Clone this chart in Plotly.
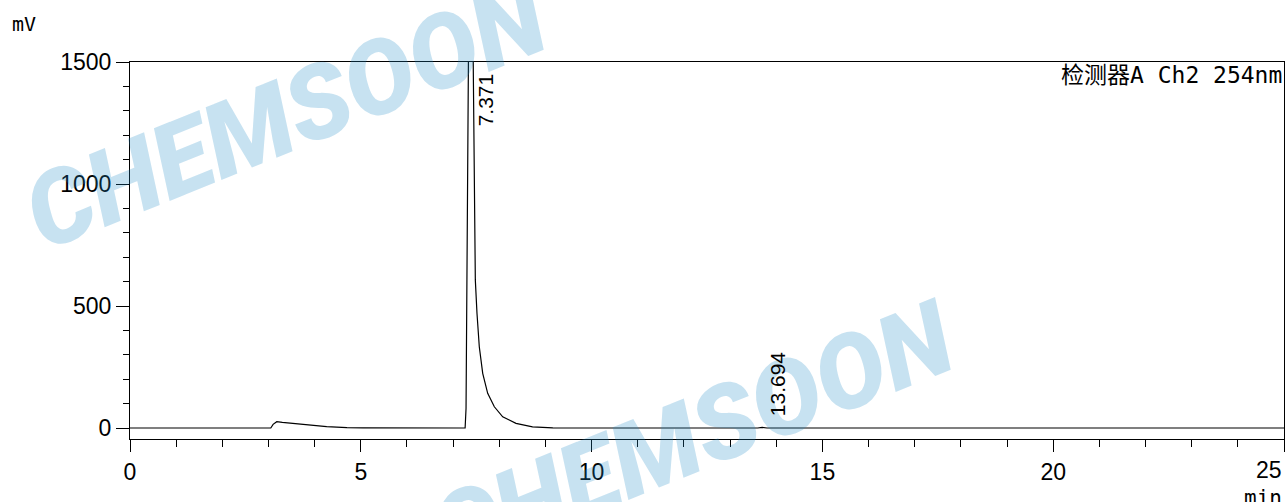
import plotly.graph_objects as go

# ---- data ----
time_min = [0.0, 3.05, 3.10, 3.18, 3.30, 3.54, 3.80, 4.26, 4.70, 5.05,
            7.20, 7.26, 7.28, 7.31, 7.33, 7.371, 7.41, 7.44, 7.46, 7.481,
            7.517, 7.567, 7.641, 7.749, 7.893, 8.074, 8.362, 8.72, 9.16,
            10.0, 13.60, 13.694, 13.80, 25.0]
signal_mv = [0, 0, 15, 26, 23, 19, 14, 6, 2, 0.5,
             0, 0, 80, 800, 1500, 2600, 2000, 1500, 1000, 607,
             470, 333, 224, 142, 87, 46, 19, 5, 1,
             0, 0, 3, 0, 0]
peak_rt = [7.371, 13.694]
peak_labels = ["7.371", "13.694"]
x_tickvals = [0, 5, 10, 15, 20, 25]
x_ticktext = ["0", "5", "10", "15", "20", ""]
y_tickvals = [0, 500, 1000, 1500]
detector_label = "检测器A Ch2 254nm"
watermark = "CHEMSOON"

W, H = 1285, 502
L, R, T, B = 130, 1284, 62, 439
pw, ph = R - L, B - T


def px(xp):
    return (xp - L) / pw


def py(yp):
    return (B - yp) / ph


fig = go.Figure()
fig.add_trace(go.Scatter(x=time_min, y=signal_mv, mode="lines",
                         line=dict(color="#000000", width=1.2),
                         hoverinfo="skip", showlegend=False))

mono = "DejaVu Sans Mono, Noto Sans CJK SC, monospace"
arial = "Liberation Sans, Arial, sans-serif"
narrow = "Liberation Sans Narrow, Liberation Sans, Arial, sans-serif"

annotations = []
# watermarks (semi-transparent so text underneath still shows)
for cx, cy in [(286, 115), (693, 435)]:
    annotations.append(dict(
        text=watermark, xref="paper", yref="paper", x=px(cx), y=py(cy),
        xanchor="center", yanchor="middle", showarrow=False, textangle=-22,
        font=dict(family="Roboto, Liberation Sans, Arial", size=103,
                  color="rgba(30,140,200,0.25)", weight=900, style="italic")))

# peak labels
label_y = [1344, 180]
for rt, lab, yy in zip(peak_rt, peak_labels, label_y):
    annotations.append(dict(
        text=lab, x=rt, y=yy, xref="x", yref="y", xshift=15,
        xanchor="center", yanchor="middle", showarrow=False, textangle=-90,
        font=dict(family=arial, size=21, color="#000000")))

annotations += [
    dict(text="mV", xref="paper", yref="paper", x=px(10), y=py(24),
         xanchor="left", yanchor="middle", showarrow=False,
         font=dict(family=mono, size=20, color="#000000")),
    dict(text=detector_label, xref="paper", yref="paper", x=px(1284), y=py(75),
         xanchor="right", yanchor="middle", showarrow=False,
         font=dict(family=mono, size=23, color="#000000")),
    dict(text="min", xref="paper", yref="paper", x=px(1284), y=py(484),
         xanchor="right", yanchor="top", showarrow=False,
         font=dict(family=mono, size=21, color="#000000")),
    dict(text="25", xref="paper", yref="paper", x=px(1284), y=py(455),
         xanchor="right", yanchor="top", showarrow=False,
         font=dict(family=narrow, size=23, color="#000000")),
]

fig.update_layout(
    width=W, height=H,
    margin=dict(l=L, r=W - R, t=T, b=H - B, pad=0),
    paper_bgcolor="white", plot_bgcolor="white",
    showlegend=False,
    annotations=annotations,
    xaxis=dict(range=[0, 25], showgrid=False, zeroline=False,
               showline=True, linecolor="#000000", linewidth=1.2, mirror=True,
               ticks="outside", ticklen=12, tickwidth=1, tickcolor="#000000",
               tickvals=x_tickvals, ticktext=x_ticktext,
               tickfont=dict(family=narrow, size=23, color="#000000"),
               minor=dict(dtick=1, ticks="outside", ticklen=7, tickwidth=1, tickcolor="#000000")),
    yaxis=dict(range=[-45, 1500], showgrid=False, zeroline=False,
               showline=True, linecolor="#000000", linewidth=1.2, mirror=True,
               ticks="outside", ticklen=13, tickwidth=1, tickcolor="#000000",
               tickvals=y_tickvals, ticklabelstandoff=0,
               tickfont=dict(family=arial, size=23, color="#000000"),
               minor=dict(dtick=100, ticks="outside", ticklen=6, tickwidth=1, tickcolor="#000000")),
)

fig.write_html("out.html", config={"displayModeBar": False},
               post_script="document.body.style.margin='0';document.body.style.overflow='hidden';")
